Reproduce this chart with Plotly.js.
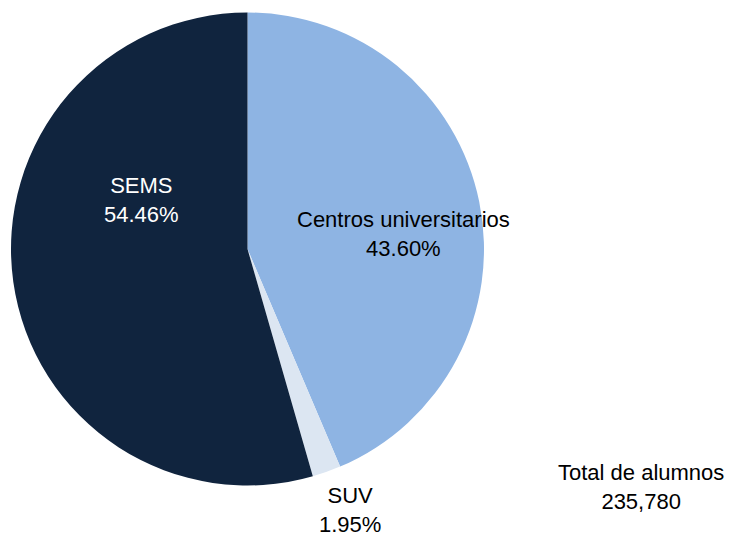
<!DOCTYPE html>
<html>
<head>
<meta charset="utf-8">
<script src="https://cdn.plot.ly/plotly-3.0.1.min.js"></script>
<style>
  html, body { margin: 0; padding: 0; background: #fff; }
  #chart { width: 730px; height: 537px; }
</style>
</head>
<body>
<div id="chart"></div>
<script>
var categorias = ["Centros universitarios", "SUV", "SEMS"];
var porcentajes = [43.60, 1.95, 54.46];
var colores = ["#8EB4E3", "#DCE6F2", "#10243E"];
var total = "235,780";

var fuente = "Liberation Sans Narrow, Arial Narrow, Liberation Sans, sans-serif";

var trace = {
  type: "pie",
  labels: categorias,
  values: porcentajes,
  sort: false,
  direction: "clockwise",
  rotation: 0,
  marker: { colors: colores, line: { width: 0 } },
  textinfo: "none",
  hoverinfo: "label+percent",
  domain: { x: [11 / 730, 484 / 730], y: [1 - 486 / 537, 1 - 12 / 537] }
};

function nota(texto, x, y, color) {
  return {
    text: texto,
    x: x / 730, y: 1 - y / 537,
    xref: "paper", yref: "paper",
    xanchor: "center", yanchor: "middle",
    showarrow: false,
    font: { family: fuente, size: 22, color: color },
    align: "center"
  };
}

function etiqueta(i, x, y, color) {
  return nota(categorias[i] + "<br>" + porcentajes[i].toFixed(2) + "%", x, y, color);
}

var layout = {
  width: 730,
  height: 537,
  margin: { l: 0, r: 0, t: 0, b: 0 },
  paper_bgcolor: "#ffffff",
  showlegend: false,
  annotations: [
    etiqueta(0, 403, 234, "#000000"),
    etiqueta(1, 350, 510, "#000000"),
    etiqueta(2, 141, 200, "#ffffff"),
    nota("Total de alumnos<br>" + total, 641, 487, "#000000")
  ]
};

Plotly.newPlot("chart", [trace], layout, { displayModeBar: false });
</script>
</body>
</html>
